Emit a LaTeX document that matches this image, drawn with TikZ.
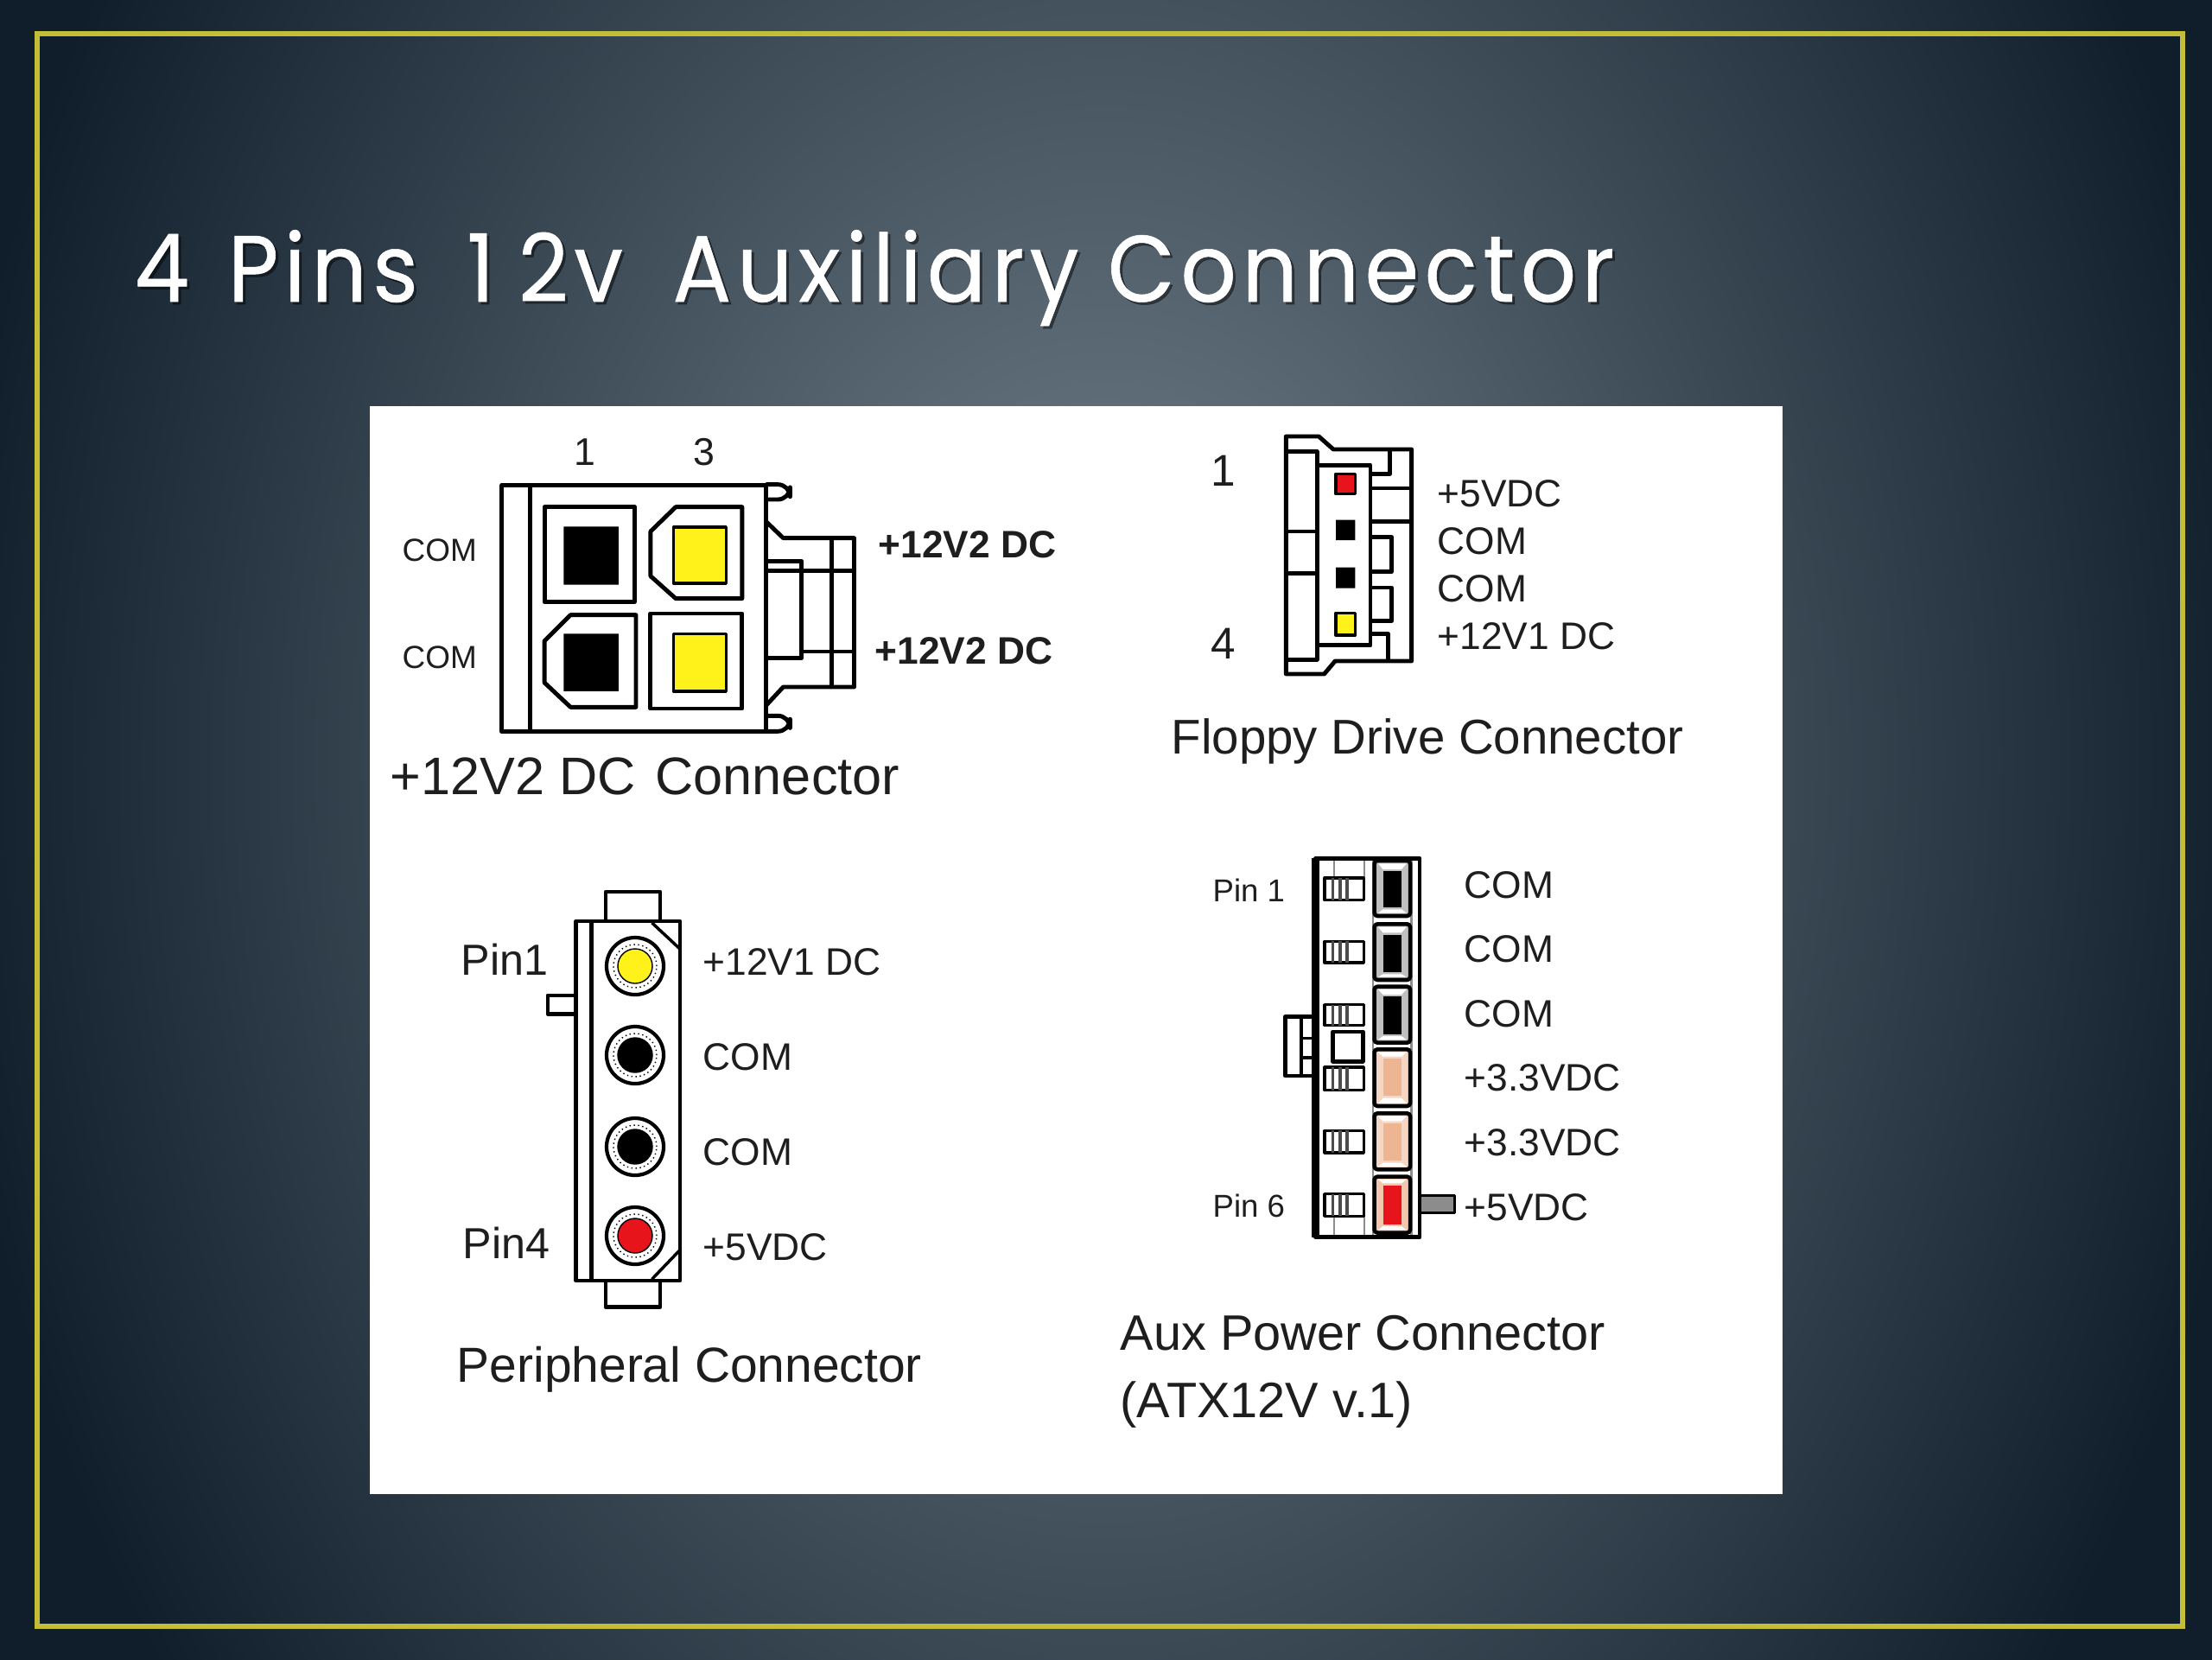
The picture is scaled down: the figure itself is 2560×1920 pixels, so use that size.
\documentclass[tikz,border=0pt]{standalone}
\usepackage{fontspec}
\setmainfont{Liberation Sans}
\newfontfamily\titlefont{Poppins}[LetterSpace=6,FakeStretch=.925,FakeBold=.5]
\usetikzlibrary{positioning, calc, shadings}
\definecolor{slidemid}{HTML}{74838D}
\definecolor{slideedge}{HTML}{0F1E2A}
\definecolor{slideline}{HTML}{C4BD38}
\definecolor{inktext}{HTML}{1E1E1E}
\definecolor{pinyellow}{HTML}{FFF21A}
\definecolor{pinred}{HTML}{E8141C}
\definecolor{pinpeach}{HTML}{EDB592}
\tikzset{
  lbl/.style={inner sep=0pt, anchor=base west, text=inktext, font=\fontsize{12.6}{14}\selectfont},
  caption/.style={lbl, font=\fontsize{16.2}{19}\selectfont},
  wire/.style={draw=black, line width=1.4pt, line join=round},
  thin wire/.style={draw=black, line width=1pt, line join=round},
  faint/.style={draw=black!45, line width=.7pt},
  headline/.style={inner sep=0pt, anchor=base west, font=\titlefont\fontsize{31}{36}\selectfont},
}
\newcommand{\headtext}{4\hspace{.105em} Pins\hspace{.21em} 1\hspace{.25em}2v\hspace{.22em} Auxiliary Connector}
\begin{document}
\begin{tikzpicture}[x=0.01cm, y=-0.01cm]
  \useasboundingbox (0,0) rectangle (2560,1920);
  % slide
  \fill[slideedge] (0,0) rectangle (2560,1920);
  \shade[inner color=slidemid, outer color=slideedge] (-70,-920) rectangle (2630,2680);
  \draw[slideline, line width=1.9pt] (43,39) rectangle (2526,1882);
  \node[headline, text=black, opacity=.45] (titleshadow) at (158,352) {\headtext};
  \node[headline, text=white] (title) at (155,349) {\headtext};
  \fill[white] (428,470) rectangle (2063,1729);

  % +12V2 DC connector
  \begin{scope}[shift={(430,470)}, xscale=.5294, yscale=.3333]
    \draw[wire] (285,275) rectangle (862,1130) (347,275) -- (347,1130);
    \draw[wire, rounded corners=4pt] (862,272) -- (915,272) -- (915,324) -- (862,324);
    \draw[wire, rounded corners=4pt] (862,1075) -- (915,1075) -- (915,1129) -- (862,1129);
    \draw[wire] (378,350) rectangle (575,680);
    \draw[wire] (665,350) -- (610,435) -- (610,590) -- (665,668) -- (810,668) -- (810,350) -- cycle;
    \draw[wire] (435,725) -- (378,815) -- (378,960) -- (435,1045) -- (578,1045) -- (578,725) -- cycle;
    \draw[wire] (610,720) rectangle (810,1050);
    \fill[black] (420,418) rectangle (540,620) (420,790) rectangle (540,990);
    \draw[thin wire, fill=pinyellow] (660,420) rectangle (775,615);
    \draw[thin wire, fill=pinyellow] (660,790) rectangle (775,990);
    \draw[wire] (862,400) -- (900,458) -- (1055,458) -- (1055,975) -- (900,975) -- (862,1040);
    \draw[wire] (1005,458) -- (1005,975);
    \draw[wire] (862,572) -- (1055,572) (940,852) -- (1055,852);
    \draw[wire] (862,538) -- (940,538) -- (940,875) -- (862,875);
  \end{scope}
  \node[lbl, font=\fontsize{10.5}{12}\selectfont] (acoma) at (465,649) {COM};
  \node[lbl, font=\fontsize{10.5}{12}\selectfont] (acomb) [below=1.24cm of acoma.base west, anchor=base west] {COM};
  \node[lbl, font=\fontsize{12.7}{15}\selectfont] (apina) at (664,538) {1};
  \node[lbl, font=\fontsize{12.7}{15}\selectfont] (apinb) [right=1.38cm of apina.base west, anchor=base west] {3};
  \node[lbl, font=\fontsize{12.6}{14}\selectfont\bfseries] (adca) at (1016,645) {+12V2 DC};
  \node[lbl, font=\fontsize{12.6}{14}\selectfont\bfseries] (adcb) at (1012,768) {+12V2 DC};
  \node[caption, font=\fontsize{17.4}{20}\selectfont] (acap) at (451,919) {+12V2 DC\hspace{.1em} Connector};

  % floppy drive connector
  \begin{scope}[shift={(1320,470)}, xscale=.4209, yscale=.3333]
    \draw[wire] (400,105) -- (490,105) -- (530,150) -- (745,150) -- (745,885) -- (535,885) -- (505,930) -- (400,930) -- cycle;
    \draw[wire] (485,205) rectangle (632,830);
    \draw[wire] (400,158) -- (485,158) -- (485,205) (400,880) -- (485,880) -- (485,830);
    \draw[wire] (400,435) -- (485,435) (400,580) -- (485,580);
    \draw[wire] (685,150) -- (685,235) -- (632,235) (632,285) -- (745,285) (632,400) -- (745,400);
    \draw[wire] (632,455) -- (690,455) -- (690,575) -- (632,575);
    \draw[wire] (632,630) -- (690,630) -- (690,745) -- (632,745);
    \draw[wire] (632,790) -- (680,790) -- (680,885);
    \draw[thin wire, fill=pinred] (537,235) rectangle (590,305);
    \fill[black] (537,395) rectangle (590,465) (537,560) rectangle (590,632);
    \draw[thin wire, fill=pinyellow] (537,718) rectangle (590,795);
  \end{scope}
  \node[lbl, font=\fontsize{14.6}{17}\selectfont] (fpina) at (1401,562) {1};
  \node[lbl, font=\fontsize{14.6}{17}\selectfont] (fpinb) [below=2cm of fpina.base west, anchor=base west] {4};
  \node[lbl] (fvb) at (1663,586) {+5VDC};
  \node[lbl] (fcoma) [below=0.55cm of fvb.base west, anchor=base west] {COM};
  \node[lbl] (fcomb) [below=0.55cm of fcoma.base west, anchor=base west] {COM};
  \node[lbl] (fva) [below=0.55cm of fcomb.base west, anchor=base west] {+12V1 DC};
  \node[caption, font=\fontsize{16.05}{19}\selectfont] (fcap) at (1355,872) {Floppy Drive Connector};

  % peripheral connector
  \begin{scope}[shift={(500,1000)}, xscale=.3827, yscale=.3571]
    \draw[thin wire, line width=1.3pt] (435,185) rectangle (750,1350) (482,185) -- (482,1350);
    \draw[thin wire, line width=1.3pt] (525,185) -- (525,90) -- (690,90) -- (690,185);
    \draw[thin wire, line width=1.3pt] (525,1350) -- (525,1435) -- (690,1435) -- (690,1350);
    \draw[thin wire, line width=1.3pt] (435,425) -- (350,425) -- (350,485) -- (435,485);
    \draw[thin wire] (665,190) -- (750,275) (665,1345) -- (750,1250);
  \end{scope}
  \foreach \y/\c/\n in {1118/pinyellow/a, 1221/black/b, 1327/black/c, 1430/pinred/d} {
    \node[circle, draw=black, line width=1.2pt, minimum size=.66cm, inner sep=0pt] (pout\n) at (735,\y) {};
    \node[circle, draw=black, densely dotted, thin, minimum size=.5cm, inner sep=0pt] (pmid\n) at (pout\n) {};
    \node[circle, fill=\c, draw=black, thin, minimum size=.4cm, inner sep=0pt] (pin\n) at (pout\n) {};
  }
  \node[lbl, font=\fontsize{14.3}{17}\selectfont] (ppina) at (533,1128) {Pin1};
  \node[lbl, font=\fontsize{14.3}{17}\selectfont] (ppinb) at (535,1456) {Pin4};
  \node[lbl] (pva) at (813,1128) {+12V1 DC};
  \node[lbl] (pcoma) [below=1.1cm of pva.base west, anchor=base west] {COM};
  \node[lbl] (pcomb) [below=1.1cm of pcoma.base west, anchor=base west] {COM};
  \node[lbl] (pvb) [below=1.1cm of pcomb.base west, anchor=base west] {+5VDC};
  \node[caption] (pcap) at (528,1599) {Peripheral Connector};

  % aux power connector
  \begin{scope}[shift={(1380,970)}, xscale=.3316, yscale=.3333]
    \draw[faint] (495,70) -- (495,138) (600,70) -- (600,138) (495,1312) -- (495,1385) (600,1312) -- (600,1385);
    \draw[faint] (630,70) -- (630,1385) (765,70) -- (765,1385);
    \foreach \t/\b/\i/\j/\c/\e in {78/270/115/240/black/black!25, 298/492/335/465/black/black!25, 515/710/550/680/black/black!25, 733/930/765/895/pinpeach/pinpeach!55, 955/1150/990/1120/pinpeach/pinpeach!55, 1175/1370/1205/1340/pinred/pinpeach!75} {
      \draw[thin wire, line width=1.3pt, fill=\e, rounded corners=1pt] (635,\t) rectangle (760,\b);
      \fill[white] (648,\t+10) -- (747,\t+10) -- (730,\i-7) -- (665,\i-7) -- cycle (665,\j+7) -- (730,\j+7) -- (747,\b-10) -- (648,\b-10) -- cycle;
      \fill[\c] (665,\i) rectangle (730,\j);
    }
    \foreach \t/\b in {138/215, 358/432, 578/650, 795/875, 1015/1092, 1235/1312} {
      \draw[thin wire, fill=white] (462,\t) rectangle (598,\b);
      \draw[thin wire, draw=black!70] (490,\t) -- (490,\b) (515,\t) -- (515,\b) (540,\t) -- (540,\b);
    }
    \draw[wire, fill=white] (325,620) rectangle (430,825);
    \draw[thin wire] (380,620) -- (380,825) (380,695) -- (430,695) (380,762) -- (430,762);
    \fill[black] (415,695) rectangle (430,762);
    \draw[thin wire, line width=1.3pt, fill=white] (490,672) rectangle (595,775);
    \draw[draw=black, line width=2.4pt] (430,70) -- (430,1385);
    \draw[wire] (430,70) rectangle (793,1385);
    \draw[thin wire, fill=black!45] (793,1240) rectangle (915,1300);
  \end{scope}
  \node[lbl, font=\fontsize{10.4}{12}\selectfont] (xpina) at (1403,1043) {Pin 1};
  \node[lbl, font=\fontsize{10.4}{12}\selectfont] (xpinb) at (1403,1408) {Pin 6};
  \node[lbl] (xcoma) at (1694,1039) {COM};
  \node[lbl] (xcomb) [below=0.746cm of xcoma.base west, anchor=base west] {COM};
  \node[lbl] (xcomc) [below=0.746cm of xcomb.base west, anchor=base west] {COM};
  \node[lbl] (xva) [below=0.746cm of xcomc.base west, anchor=base west] {+3.3VDC};
  \node[lbl] (xvb) [below=0.746cm of xva.base west, anchor=base west] {+3.3VDC};
  \node[lbl] (xvc) [below=0.746cm of xvb.base west, anchor=base west] {+5VDC};
  \node[caption, font=\fontsize{16.4}{19}\selectfont] (xcapa) at (1296,1562) {Aux Power Connector};
  \node[caption, font=\fontsize{16.4}{19}\selectfont] (xcapb) [below=0.78cm of xcapa.base west, anchor=base west] {(ATX12V v.1)};
\end{tikzpicture}
\end{document}
